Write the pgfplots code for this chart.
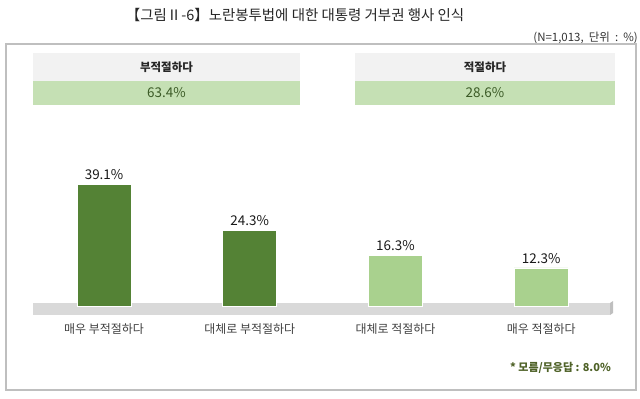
\documentclass[border=0pt]{standalone}
\usepackage{pgfplots}
\pgfplotsset{compat=1.18}
\usepackage{fontspec}
\setmainfont{Noto Sans CJK KR}
\definecolor{darkbar}{HTML}{548235}
\definecolor{lightbar}{HTML}{A9D18E}
\definecolor{band}{HTML}{C5E0B4}
\definecolor{hdr}{HTML}{F2F2F2}
\definecolor{plat}{HTML}{D9D9D9}
\definecolor{platside}{HTML}{BFBFBF}
\definecolor{frame}{HTML}{BFBFBF}
\definecolor{bandtext}{HTML}{3B5A26}
\definecolor{foot}{HTML}{4F6228}
\definecolor{cat}{HTML}{404040}
\begin{document}
\begin{tikzpicture}[x=1bp,y=1bp]
\path[use as bounding box] (0,0) rectangle (640,398);
\coordinate (AX) at (31.2,92);
% title
\node[font=\fontsize{14.5}{16}\selectfont, text=black!85] at (295,383) {【그림Ⅱ-6】노란봉투법에 대한 대통령 거부권 행사 인식};
\node[font=\fontsize{11.5}{13}\selectfont, text=black!80, anchor=east, inner sep=0pt] at (638,360) {(N=1,013,\ \ 단위\ \ :\ \ \%)};
% frame
\draw[frame, line width=1.5bp] (6,354) rectangle (636,8);
% header boxes
\fill[hdr] (33,345) rectangle (300,317);
\fill[band] (33,317) rectangle (300,293);
\fill[hdr] (355,345) rectangle (615,317);
\fill[band] (355,317) rectangle (615,293);
\node[font=\fontsize{11.5}{13}\selectfont\bfseries, text=black!85] at (166.5,331) {부적절하다};
\node[font=\fontsize{13.5}{15}\selectfont, text=bandtext] at (166.5,305) {63.4\%};
\node[font=\fontsize{11.5}{13}\selectfont\bfseries, text=black!85] at (485,331) {적절하다};
\node[font=\fontsize{13.5}{15}\selectfont, text=bandtext] at (485,305) {28.6\%};
% platform
\fill[plat] (33,83) rectangle (610,95);
\fill[platside] (610,83) -- (610,95) -- (613,97) -- (613,85) -- cycle;
% footnote
\node[font=\fontsize{11}{13}\selectfont\bfseries, text=foot, anchor=east, inner sep=0pt] at (611,30) {* 모름/무응답 : 8.0\%};
\begin{axis}[
  at={(AX)}, anchor=south west,
  scale only axis, width=582.8bp, height=124bp,
  xmin=-0.5, xmax=3.5, ymin=0, ymax=40,
  axis line style={draw=none},
  ytick=\empty,
  xtick={0,1,2,3},
  xticklabels={매우 부적절하다, 대체로 부적절하다, 대체로 적절하다, 매우 적절하다},
  major tick length=0pt,
  xticklabel style={font=\fontsize{12}{14}\selectfont, text=cat, anchor=center, yshift=-23bp},
  clip=false,
  ybar, bar width=54bp,
  /pgf/number format/assume math mode=true,
  nodes near coords={\pgfmathprintnumber[fixed,precision=1,fixed zerofill]{\pgfplotspointmeta}\%},
  every node near coord/.append style={font=\fontsize{13.5}{15}\selectfont, text=black!90, yshift=1bp},
]
\addplot[bar shift=0pt, fill=darkbar, draw=white, line width=0.6bp] coordinates {(0,39.1) (1,24.3)};
\addplot[bar shift=0pt, fill=lightbar, draw=white, line width=0.6bp] coordinates {(2,16.3) (3,12.3)};
\end{axis}
\end{tikzpicture}
\end{document}
